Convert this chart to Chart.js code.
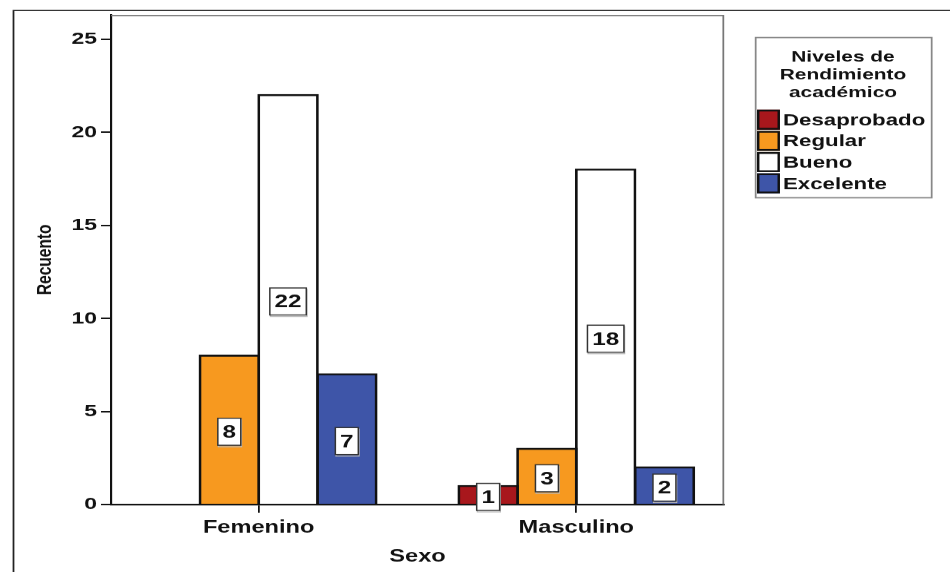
<!DOCTYPE html>
<html>
<head>
<meta charset="utf-8">
<script src="https://cdn.jsdelivr.net/npm/chart.js@4/dist/chart.umd.min.js"></script>
<style>
  html, body { margin: 0; padding: 0; background: #fff; overflow: hidden; }
  /* the original export is stretched horizontally, so the chart is drawn narrow and widened */
  #wrap { width: 704px; height: 572px; position: relative; transform-origin: 0 0; }
</style>
</head>
<body>
<div id="wrap"><canvas id="chart"></canvas></div>
<script>
// Datos del gráfico
const categorias = ['Femenino', 'Masculino'];
const niveles = ['Desaprobado', 'Regular', 'Bueno', 'Excelente'];
const desaprobado = [null, 1];
const regular = [8, 3];
const bueno = [22, 18];
const excelente = [7, 2];
const colores = ['#A8171C', '#F7991F', '#FFFFFF', '#3E55A8'];
const tituloLeyenda = ['Niveles de', 'Rendimiento', 'académico'];
const tituloX = 'Sexo';
const tituloY = 'Recuento';

const series = [desaprobado, regular, bueno, excelente];
const FONT = '"Liberation Sans", Arial, Helvetica, sans-serif';
const S = 950 / 704;   // horizontal stretch
document.getElementById('wrap').style.transform = 'scaleX(' + S + ')';

// Marco exterior, borde del área de datos y leyenda
const framePlugin = {
    id: 'frame',
    afterDraw(chart) {
        const { ctx, chartArea } = chart;
        ctx.save();
        // marco exterior (solo arriba e izquierda visibles)
        ctx.strokeStyle = '#222';
        ctx.lineWidth = 1.3;
        ctx.beginPath();
        ctx.moveTo(10, 572);
        ctx.lineTo(10, 10.5);
        ctx.lineTo(704, 10.5);
        ctx.stroke();
        // borde superior y derecho del área de datos
        ctx.strokeStyle = '#777';
        ctx.lineWidth = 1.3;
        ctx.beginPath();
        ctx.moveTo(chartArea.left, chartArea.top + 0.5);
        ctx.lineTo(chartArea.right - 0.5, chartArea.top + 0.5);
        ctx.lineTo(chartArea.right - 0.5, chartArea.bottom);
        ctx.stroke();

        // leyenda
        const lx = 755 / S, ly = 37, lw = 176 / S, lh = 160;
        ctx.strokeStyle = '#888';
        ctx.lineWidth = 1.3;
        ctx.strokeRect(lx + 0.5, ly + 0.5, lw, lh);
        ctx.fillStyle = '#111';
        ctx.textAlign = 'center';
        ctx.textBaseline = 'middle';
        ctx.font = 'bold 15.5px ' + FONT;
        const tx = lx + lw / 2;
        tituloLeyenda.forEach((t, i) => ctx.fillText(t, tx, 57.5 + i * 17.5));
        ctx.textAlign = 'left';
        ctx.font = 'bold 16.5px ' + FONT;
        niveles.forEach((n, i) => {
            const cy = 119.5 + i * 21.2;
            ctx.fillStyle = colores[i];
            ctx.fillRect(757 / S, cy - 10, 17, 20);
            ctx.strokeStyle = '#111';
            ctx.lineWidth = 1.8;
            ctx.strokeRect(757 / S + 0.9, cy - 9.1, 15.2, 18.2);
            ctx.fillStyle = '#111';
            ctx.fillText(n, 783 / S, cy + 1);
        });
        ctx.restore();
    }
};

// Etiquetas de valor en recuadro blanco en el centro de cada barra
const valueLabels = {
    id: 'valueLabels',
    afterDatasetsDraw(chart) {
        const ctx = chart.ctx;
        ctx.save();
        ctx.font = 'bold 18px ' + FONT;
        ctx.textAlign = 'center';
        ctx.textBaseline = 'middle';
        chart.data.datasets.forEach((ds, di) => {
            const meta = chart.getDatasetMeta(di);
            meta.data.forEach((bar, i) => {
                const v = ds.data[i].y;
                if (v === null || v === undefined) return;
                const cx = bar.x;
                const cy = (bar.y + bar.base) / 2 + 2;
                const text = String(v);
                const w = ctx.measureText(text).width + 7;
                const h = 27;
                ctx.strokeStyle = '#bbb';
                ctx.lineWidth = 1;
                ctx.strokeRect(cx - w / 2 + 0.5, cy - h / 2 + 1.5, w, h);
                ctx.fillStyle = '#fff';
                ctx.fillRect(cx - w / 2, cy - h / 2, w, h);
                ctx.strokeStyle = '#333';
                ctx.lineWidth = 1.1;
                ctx.strokeRect(cx - w / 2, cy - h / 2, w, h);
                ctx.fillStyle = '#111';
                ctx.fillText(text, cx, cy + 1);
            });
        });
        ctx.restore();
    }
};

const ctx = document.getElementById('chart').getContext('2d');
new Chart(ctx, {
    type: 'bar',
    data: {
        datasets: series.map((vals, i) => ({
            label: niveles[i],
            data: vals.map((v, j) => ({ x: j, y: v })),
            backgroundColor: colores[i],
            borderColor: '#111',
            borderWidth: 2,
            borderSkipped: 'start',
            inflateAmount: 1,
            barPercentage: 1,
            categoryPercentage: 0.74
        }))
    },
    options: {
        responsive: true,
        maintainAspectRatio: false,
        animation: false,
        devicePixelRatio: S,
        layout: { padding: { top: 15, right: 704 - 724 / S, left: 0, bottom: 0 } },
        plugins: {
            legend: { display: false },
            tooltip: { enabled: false }
        },
        scales: {
            x: {
                type: 'linear',
                min: -0.465,
                max: 1.465,
                offset: false,
                afterBuildTicks: (scale) => {
                    scale.ticks = categorias.map((c, i) => ({ value: i }));
                },
                afterFit: (scale) => { scale.height = 68; },
                ticks: {
                    callback: (v) => categorias[v] ?? '',
                    color: '#111',
                    font: { family: FONT, size: 17.5, weight: 'bold' },
                    padding: 5,
                    maxRotation: 0
                },
                grid: {
                    drawOnChartArea: false,
                    offset: false,
                    tickLength: 8,
                    color: '#111',
                    lineWidth: 1.3
                },
                border: { color: '#111', width: 1.6 },
                title: {
                    display: true,
                    text: tituloX,
                    color: '#111',
                    font: { family: FONT, size: 17.5, weight: 'bold' },
                    padding: { top: 0, bottom: 5.5 }
                }
            },
            y: {
                min: 0,
                max: 26.3,
                afterFit: (scale) => { scale.width = 111 / S; },
                ticks: {
                    stepSize: 5,
                    includeBounds: false,
                    color: '#111',
                    font: { family: FONT, size: 17, weight: 'bold' },
                    padding: 3
                },
                grid: {
                    drawOnChartArea: false,
                    tickLength: 10 / S,
                    color: '#111',
                    lineWidth: 1.5
                },
                border: { color: '#111', width: 1.6 },
                title: {
                    display: true,
                    text: tituloY,
                    color: '#111',
                    font: { family: FONT, size: 15.5, weight: 'bold' },
                    padding: { top: 24.5, bottom: 0 }
                }
            }
        }
    },
    plugins: [framePlugin, valueLabels]
});
</script>
</body>
</html>
